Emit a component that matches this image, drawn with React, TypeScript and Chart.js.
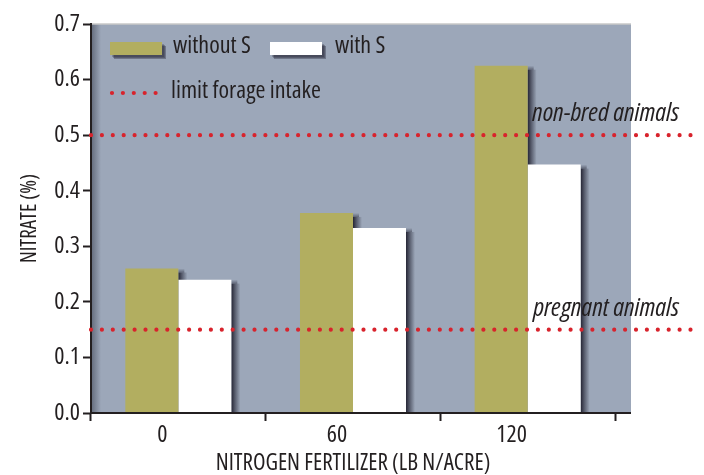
import React, { useEffect, useRef } from "react";
import { Chart, registerables } from "chart.js";

Chart.register(...registerables);

const categories = ["0", "60", "120"];
const withoutS = [0.26, 0.36, 0.625];
const withS = [0.24, 0.333, 0.447];
const seriesLabels = ["without S", "with S"];
const limitValues = [0.5, 0.15];
const limitLabels = ["non-bred animals", "pregnant animals"];
const limitLegend = "limit forage intake";
const yTitle = "NITRATE (%)";
const xTitle = "NITROGEN FERTILIZER (LB N/ACRE)";

const FAMILY = "'Open Sans', 'Roboto Condensed', sans-serif";
const W = "500 condensed";
const GRAY = "#9ca7b9";
const OLIVE = "#b2ae60";
const RED = "#d8232c";
const INK = "#231f20";

const softShadow = (ctx: any, x: number, y: number, w: number, h: number) => {
  ctx.save();
  const layers = [
    [1, 0.25],
    [2, 0.3],
    [3, 0.35],
  ];
  layers.forEach(([o, al]) => {
    ctx.fillStyle = `rgba(30,30,45,${al})`;
    ctx.fillRect(x + o + 1, y + o + 1, w, h);
  });
  ctx.restore();
};

const decor = {
  id: "decor",
  beforeDraw(chart: any) {
    const { ctx, chartArea: a } = chart;
    ctx.save();
    ctx.fillStyle = GRAY;
    ctx.fillRect(a.left, a.top, a.right + 16 - a.left, a.bottom - a.top);
    const g = ctx.createLinearGradient(a.left, 0, a.left + 10, 0);
    g.addColorStop(0, "rgba(40,45,60,0.5)");
    g.addColorStop(1, "rgba(40,45,60,0)");
    ctx.fillStyle = g;
    ctx.fillRect(a.left, a.top, 10, a.bottom - a.top);
    ctx.strokeStyle = "#c8c8c8";
    ctx.lineWidth = 1.5;
    ctx.beginPath();
    ctx.moveTo(a.left, a.top);
    ctx.lineTo(a.right + 16, a.top);
    ctx.stroke();
    ctx.restore();
  },
  beforeDatasetsDraw(chart: any) {
    const { ctx } = chart;
    ctx.save();
    chart.data.datasets.forEach((_d: any, di: number) => {
      chart.getDatasetMeta(di).data.forEach((el: any) => {
        const right = el.x + el.width / 2;
        const top = Math.min(el.y, el.base);
        const bottom = Math.max(el.y, el.base);
        const g = ctx.createLinearGradient(right, 0, right + 9, 0);
        g.addColorStop(0, "rgba(30,30,45,0.95)");
        g.addColorStop(0.4, "rgba(30,30,45,0.55)");
        g.addColorStop(1, "rgba(30,30,45,0)");
        ctx.fillStyle = g;
        ctx.fillRect(right, top + 4, 9, bottom - top - 4);
        const g2 = ctx.createLinearGradient(0, top, 0, top + 5);
        g2.addColorStop(0, "rgba(30,30,45,0)");
        g2.addColorStop(1, "rgba(30,30,45,0.6)");
        ctx.fillStyle = g2;
        ctx.fillRect(right, top, 6, 4);
      });
    });
    ctx.restore();
  },
  afterDatasetsDraw(chart: any) {
    const { ctx, chartArea: a, scales } = chart;
    ctx.save();
    // x axis line
    ctx.strokeStyle = INK;
    ctx.lineWidth = 2;
    ctx.beginPath();
    ctx.moveTo(a.left, a.bottom);
    ctx.lineTo(a.right + 16, a.bottom);
    ctx.stroke();
    // dotted limit lines
    const dotted = (x1: number, x2: number, y: number) => {
      ctx.save();
      ctx.strokeStyle = RED;
      ctx.lineWidth = 4.2;
      ctx.lineCap = "round";
      ctx.setLineDash([0, 10.9]);
      ctx.beginPath();
      ctx.moveTo(x1, y);
      ctx.lineTo(x2, y);
      ctx.stroke();
      ctx.restore();
    };
    ctx.fillStyle = INK;
    ctx.font = `italic ${W} 26px ${FAMILY}`;
    ctx.textAlign = "right";
    ctx.textBaseline = "alphabetic";
    limitValues.forEach((v, i) => {
      const y = scales.y.getPixelForValue(v);
      dotted(a.left, a.right + 76, y);
      ctx.fillText(limitLabels[i], a.right + 64, y - 14);
    });
    // legend
    const ds = chart.data.datasets;
    ctx.font = `${W} 24px ${FAMILY}`;
    ctx.textAlign = "left";
    ctx.textBaseline = "middle";
    const boxes = [
      { x: a.left + 19, text: a.left + 82 },
      { x: a.left + 179, text: a.left + 244 },
    ];
    boxes.forEach((b, i) => {
      softShadow(ctx, b.x, a.top + 18, 52, 13);
      ctx.fillStyle = ds[i].backgroundColor;
      ctx.fillRect(b.x, a.top + 18, 52, 13);
      ctx.fillStyle = INK;
      ctx.fillText(ds[i].label, b.text, a.top + 22);
    });
    dotted(a.left + 21, a.left + 66, a.top + 69);
    ctx.fillStyle = INK;
    ctx.fillText(limitLegend, a.left + 80, a.top + 67);
    ctx.restore();
  },
};

export default function App() {
  const ref = useRef<HTMLCanvasElement>(null);
  useEffect(() => {
    document.body.style.margin = "0";
    Chart.defaults.font.family = FAMILY;
    Chart.defaults.color = INK;
    const chart = new Chart(ref.current!, {
      type: "bar",
      data: {
        labels: categories,
        datasets: [
          {
            label: seriesLabels[0],
            data: withoutS,
            backgroundColor: OLIVE,
            barPercentage: 1,
            categoryPercentage: 0.607,
          },
          {
            label: seriesLabels[1],
            data: withS,
            backgroundColor: "#ffffff",
            barPercentage: 1,
            categoryPercentage: 0.607,
          },
        ],
      },
      options: {
        animation: false,
        responsive: false,
        layout: { padding: { left: 0, right: 89, top: 24, bottom: 0 } },
        plugins: { legend: { display: false }, tooltip: { enabled: false } },
        scales: {
          x: {
            afterFit: (s: any) => {
              s.height = 62;
            },
            grid: {
              offset: true,
              drawOnChartArea: false,
              drawTicks: true,
              tickLength: 8,
              tickWidth: 2,
              tickColor: (c: any) => (c.index >= 3 ? "rgba(0,0,0,0)" : INK),
            },
            border: { display: false },
            ticks: {
              font: { size: 24, weight: W as any },
              color: INK,
              padding: 0,
              labelOffset: -16,
              maxRotation: 0,
            },
            title: {
              display: true,
              text: xTitle,
              font: { size: 23, weight: W as any },
              color: INK,
              padding: { top: 0, bottom: -2 },
            },
          },
          y: {
            min: 0,
            max: 0.7,
            afterFit: (s: any) => {
              s.width = 91;
            },
            grid: {
              drawOnChartArea: false,
              drawTicks: true,
              tickLength: 8,
              tickWidth: 2,
              tickColor: INK,
            },
            border: { display: true, color: INK, width: 2 },
            ticks: {
              stepSize: 0.1,
              font: { size: 24, weight: W as any },
              color: INK,
              padding: 3,
              callback: (v: any) => Number(v).toFixed(1),
            },
            title: {
              display: true,
              text: yTitle,
              font: { size: 21, weight: W as any },
              color: INK,
              padding: { top: 17, bottom: 0 },
            },
          },
        },
      },
      plugins: [decor],
    });
    return () => chart.destroy();
  }, []);
  return <canvas ref={ref} width={704} height={475} style={{ display: "block" }} />;
}
